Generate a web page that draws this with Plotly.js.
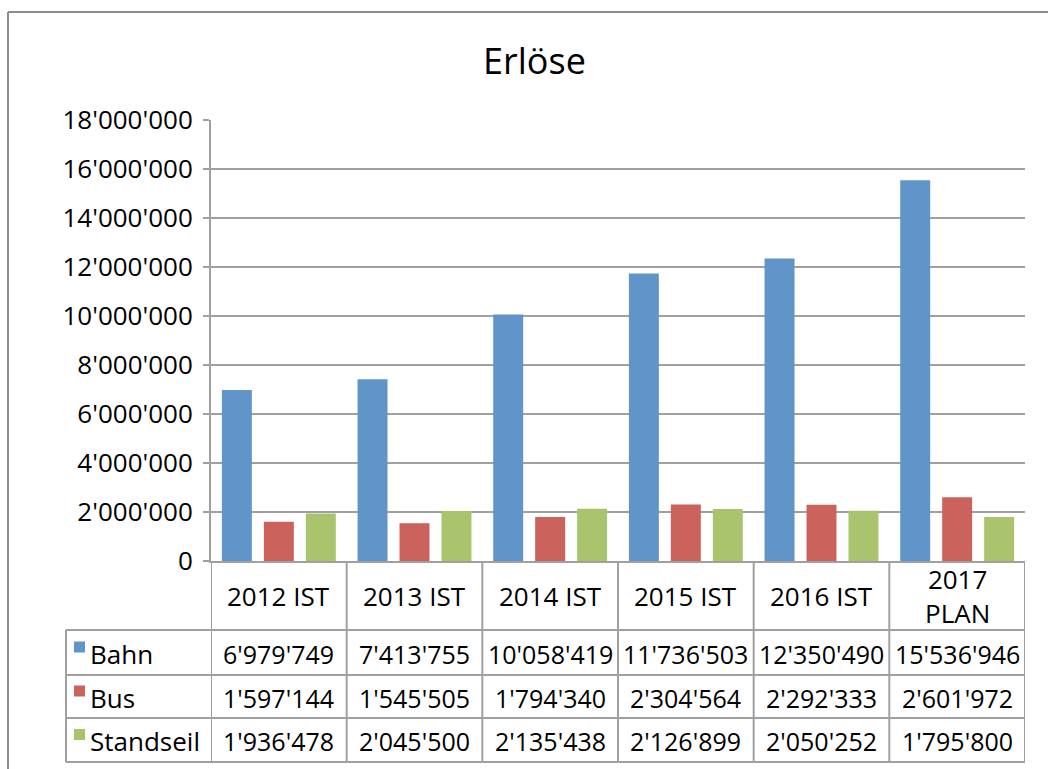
<!DOCTYPE html>
<html>
<head>
<meta charset="utf-8">
<script src="https://cdn.plot.ly/plotly-3.0.1.min.js"></script>
<style>
html,body{margin:0;padding:0;background:#fff;}
#chart{width:1048px;height:769px;}
</style>
</head>
<body>
<div id="chart"></div>
<script>
// ---- data ----
var categories = ["2012 IST", "2013 IST", "2014 IST", "2015 IST", "2016 IST", "2017<br>PLAN"];
var seriesNames = ["Bahn", "Bus", "Standseil"];
var bahn = [6979749, 7413755, 10058419, 11736503, 12350490, 15536946];
var bus = [1597144, 1545505, 1794340, 2304564, 2292333, 2601972];
var standseil = [1936478, 2045500, 2135438, 2126899, 2050252, 1795800];
var colors = ["#6194C9", "#CB625C", "#A9C46D"];
var yTickVals = [0, 2000000, 4000000, 6000000, 8000000, 10000000, 12000000, 14000000, 16000000, 18000000];

// ---- layout geometry (pixels) ----
var W = 1048, H = 769;
var L = 211, R = 1025, T = 120, B = 561;
function px(x){ return (x - L) / (R - L); }
function py(y){ return (B - y) / (B - T); }

var FONT = "Open Sans, Noto Sans, sans-serif";
var gridCol = "#A0A0A0";
var NUM = 25, TXT = 26;

function fmt(n){
  return String(n).replace(/\B(?=(\d{3})+(?!\d))/g, "'");
}

var seriesValues = [bahn, bus, standseil];
var xIdx = categories.map(function(c, i){ return i; });

var traces = seriesValues.map(function(vals, s){
  return {
    type: "bar",
    name: seriesNames[s],
    x: xIdx,
    y: vals,
    marker: {color: colors[s]},
    hoverinfo: "y+name"
  };
});

// table geometry
var headerTop = B, headerBot = 630;
var rowBounds = [630, 675, 718, 762];
var tableLeft = 66;

var shapes = [];
var annotations = [];
var lineStyle = {color: gridCol, width: 2};

// outer chart border
shapes.push({type: "line", xref: "paper", yref: "paper", x0: px(8), x1: px(W + 5), y0: py(12), y1: py(12), line: {color: "#8c8c8c", width: 2}});
shapes.push({type: "line", xref: "paper", yref: "paper", x0: px(8), x1: px(8), y0: py(12), y1: py(H + 5), line: {color: "#8c8c8c", width: 2}});

// vertical table lines at category boundaries
for (var i = 0; i <= categories.length; i++) {
  shapes.push({type: "line", xref: "x", yref: "paper", x0: i - 0.5, x1: i - 0.5, y0: py(headerTop), y1: py(rowBounds[3]), line: lineStyle});
}
// legend column left border
shapes.push({type: "line", xref: "paper", yref: "paper", x0: px(tableLeft), x1: px(tableLeft), y0: py(rowBounds[0]), y1: py(rowBounds[3]), line: lineStyle});
// horizontal table lines
rowBounds.forEach(function(yb){
  shapes.push({type: "line", xref: "paper", yref: "paper", x0: px(tableLeft), x1: 1, y0: py(yb), y1: py(yb), line: lineStyle});
});

// header labels
categories.forEach(function(c, i){
  annotations.push({xref: "x", yref: "paper", x: i, y: py((headerTop + headerBot) / 2), text: c, showarrow: false,
    font: {family: FONT, size: TXT, color: "#000"}, xanchor: "center", yanchor: "middle"});
});

// rows
seriesValues.forEach(function(vals, s){
  var yc = (rowBounds[s] + rowBounds[s + 1]) / 2;
  // legend key
  shapes.push({type: "rect", xref: "paper", yref: "paper", x0: px(74), x1: px(85), y0: py(yc - 11), y1: py(yc),
    fillcolor: colors[s], line: {width: 0}});
  annotations.push({xref: "paper", yref: "paper", x: px(88), y: py(yc + 1), text: seriesNames[s], showarrow: false,
    font: {family: FONT, size: TXT, color: "#000"}, xanchor: "left", yanchor: "middle"});
  vals.forEach(function(v, i){
    annotations.push({xref: "x", yref: "paper", x: i, y: py(yc + 1), text: fmt(v), showarrow: false,
      font: {family: FONT, size: NUM, color: "#000"}, xanchor: "center", yanchor: "middle"});
  });
});

var layout = {
  width: W, height: H,
  margin: {l: L, r: W - R, t: T, b: H - B, pad: 0},
  paper_bgcolor: "#fff",
  plot_bgcolor: "#fff",
  separators: ".'",
  title: {text: "Erlöse", font: {family: FONT, size: 36, color: "#000"}, x: 0.51, xanchor: "center", y: 0.92, yanchor: "middle"},
  showlegend: false,
  barmode: "group",
  bargap: 0.072,
  bargroupgap: 0.286,
  xaxis: {
    type: "linear",
    range: [-0.5, categories.length - 0.5],
    showticklabels: false,
    showgrid: false,
    zeroline: false,
    showline: true,
    linecolor: gridCol,
    linewidth: 2,
    ticks: "",
    fixedrange: true
  },
  yaxis: {
    range: [0, 18000000],
    tickvals: yTickVals,
    tickformat: ",d",
    showgrid: true,
    gridcolor: gridCol,
    gridwidth: 2,
    zeroline: false,
    showline: true,
    linecolor: gridCol,
    linewidth: 2,
    ticks: "outside",
    ticklen: 6,
    tickwidth: 2,
    tickcolor: gridCol,
    ticklabelstandoff: 5,
    tickfont: {family: FONT, size: 26, color: "#000"},
    fixedrange: true
  },
  shapes: shapes,
  annotations: annotations
};

Plotly.newPlot("chart", traces, layout, {displayModeBar: false, staticPlot: true});
</script>
</body>
</html>
